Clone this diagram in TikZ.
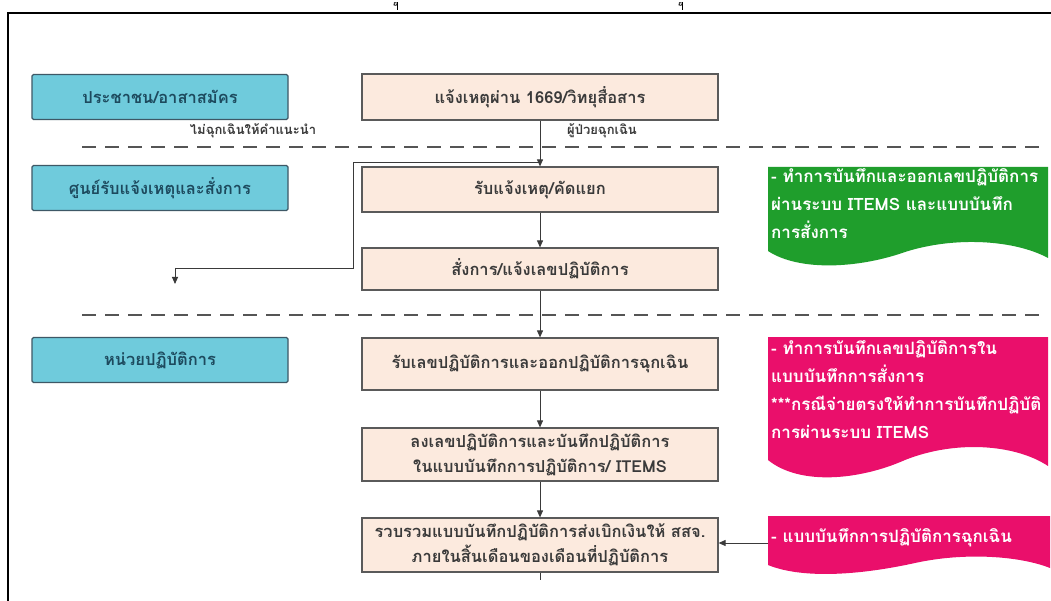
\documentclass[tikz,border=0pt]{standalone}
\usepackage{fontspec}
\newfontfamily\thai[Script=Thai]{Loma}
\setmainfont[Script=Thai]{Loma}
\usetikzlibrary{arrows.meta}

\definecolor{bluefill}{HTML}{6FCBDC}
\definecolor{bluebd}{HTML}{3E5866}
\definecolor{bluetxt}{HTML}{1D4A5E}
\definecolor{peachfill}{HTML}{FCEADE}
\definecolor{peachbd}{HTML}{5A5A5A}
\definecolor{peachtxt}{HTML}{3A3A3A}
\definecolor{docgreen}{HTML}{1F9E2C}
\definecolor{docpink}{HTML}{EA0F6B}
\definecolor{linec}{HTML}{3A3A3A}
\definecolor{dashc}{HTML}{555555}

\tikzset{
  boxfont/.style={font=\thai\bfseries\fontsize{16.5}{25}\selectfont},
  bluebox/.style={boxfont, draw=bluebd, fill=bluefill, line width=1.2pt,
    rounded corners=1.5pt, minimum width=256pt, minimum height=45pt,
    text=bluetxt, inner sep=0pt},
  peachbox/.style={boxfont, draw=peachbd, fill=peachfill, line width=1.2pt,
    minimum width=356pt, text=peachtxt, align=center, inner sep=0pt},
  flow/.style={draw=linec, line width=0.9pt, -{Triangle[length=7pt,width=6pt]}},
  plainline/.style={draw=linec, line width=0.9pt},
  sepline/.style={draw=dashc, line width=2.5pt, dash pattern=on 14pt off 9pt},
  edgelabel/.style={font=\thai\bfseries\fontsize{13}{15}\selectfont, text=peachtxt, inner sep=0pt},
  doctext/.style={font=\thai\bfseries\fontsize{17}{28}\selectfont, text=white,
    anchor=north west, align=left, inner sep=0pt},
}

\begin{document}
\begin{tikzpicture}[x=1pt,y=-1pt]
\useasboundingbox (0,0) rectangle (1051,601);
\fill[white] (0,0) rectangle (1051,601);

% page frame and clipped marks above it
\draw[line width=2pt] (8,601) -- (8,13) -- (1051,13);
\foreach \mx in {397,682}{
  \draw[line width=0.8pt] (\mx,2.5) -- (\mx,10);
  \draw[line width=0.8pt] (\mx,3) .. controls (\mx-2,1.5) and (\mx-4,3) .. (\mx-3,5) .. controls (\mx-2,6) and (\mx,5) .. (\mx,4.5);
}

% lane titles
\node[bluebox] (lane1) at (160,97) {ประชาชน/อาสาสมัคร};
\node[bluebox] (lane2) at (160,188) {ศูนย์รับแจ้งเหตุและสั่งการ};
\node[bluebox] (lane3) at (160,360) {หน่วยปฏิบัติการ};

% lane separators
\draw[sepline] (82,147) -- (1042,147);
\draw[sepline] (82,315) -- (1042,315);

% process steps
\node[peachbox, minimum height=46pt] (s1) at (540,97) {แจ้งเหตุผ่าน 1669/วิทยุสื่อสาร};
\node[peachbox, minimum height=45pt] (s2) at (540,189.5) {รับแจ้งเหตุ/คัดแยก};
\node[peachbox, minimum height=42pt] (s3) at (540,269) {สั่งการ/แจ้งเลขปฏิบัติการ};
\node[peachbox, minimum height=52pt] (s4) at (540,364) {รับเลขปฏิบัติการและออกปฏิบัติการฉุกเฉิน};
\node[peachbox, minimum height=53pt] (s5) at (540,454.5) {ลงเลขปฏิบัติการและบันทึกปฏิบัติการ\\ในแบบบันทึกการปฏิบัติการ/ ITEMS};
\node[peachbox, minimum height=54pt] (s6) at (540,545) {รวบรวมแบบบันทึกปฏิบัติการส่งเบิกเงินให้ สสจ.\\ภายในสิ้นเดือนของเดือนที่ปฏิบัติการ};

% flow connectors
\coordinate (split) at (540,162);
\coordinate (advice) at (175,284);
\draw[flow] (s1) -- (s2);
\draw[plainline] (split) -- (353,162) -- (353,268) -- (175,268);
\draw[flow] (175,268) -- (advice);
\draw[flow] (s2) -- (s3);
\draw[flow] (s3) -- (s4);
\draw[flow] (s4) -- (s5);
\draw[flow] (s5) -- (s6);
\coordinate (tail) at (540,580);
\draw[plainline] (s6.south) -- (tail);

% connector labels
\node[edgelabel] (lblno) at (253,131) {ไม่ฉุกเฉินให้คำแนะนำ};
\node[edgelabel] (lblyes) at (602,131) {ผู้ป่วยฉุกเฉิน};

% document notes
\fill[docgreen] (768,167) -- (1048,167) -- (1048,258)
  .. controls (1015,240) and (955,236) .. (905,252)
  .. controls (860,268) and (800,272) .. (768,251) -- cycle;
\node[doctext] (note1) at (771,168) {- ทำการบันทึกและออกเลขปฏิบัติการ\\ผ่านระบบ ITEMS และแบบบันทึก\\การสั่งการ};

\fill[docpink] (768,337) -- (1048,337) -- (1048,466)
  .. controls (1015,444) and (955,440) .. (905,460)
  .. controls (860,480) and (800,486) .. (768,460) -- cycle;
\node[doctext] (note2) at (771,340) {- ทำการบันทึกเลขปฏิบัติการใน\\แบบบันทึกการสั่งการ\\***กรณีจ่ายตรงให้ทำการบันทึกปฏิบัติ\\การผ่านระบบ ITEMS};

\fill[docpink] (768,516) -- (1050,516) -- (1050,568)
  .. controls (1020,556) and (965,552) .. (915,563)
  .. controls (865,574) and (805,580) .. (768,565) -- cycle;
\node[doctext, anchor=west] (note3) at (771,538) {- แบบบันทึกการปฏิบัติการฉุกเฉิน};
\coordinate (note3w) at (768,543);
\draw[flow] (note3w) -- (s6.east |- note3w);
\end{tikzpicture}
\end{document}
